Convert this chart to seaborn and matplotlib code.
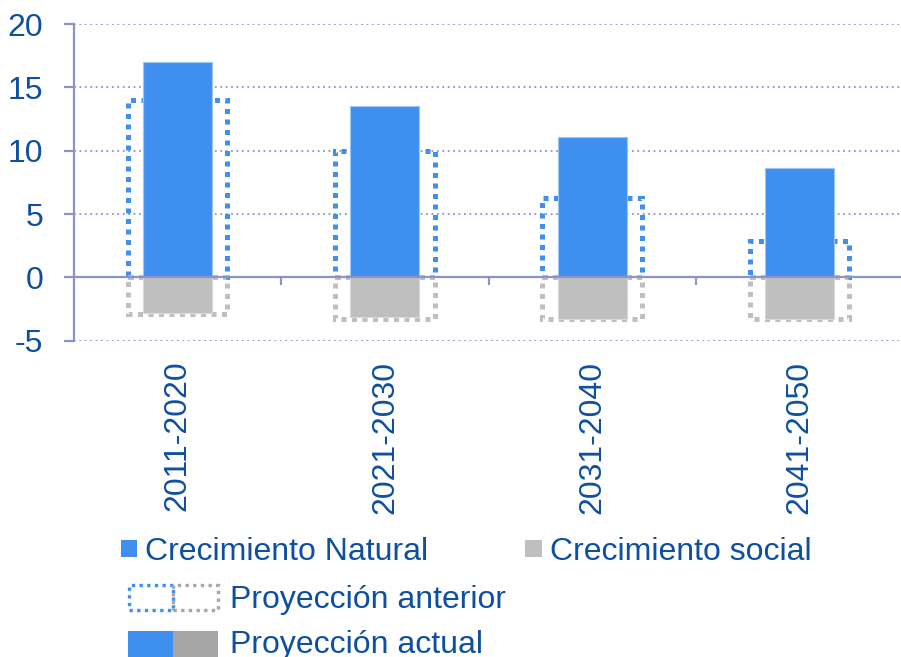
import matplotlib
matplotlib.use("Agg")
import matplotlib.pyplot as plt
import seaborn as sns
from matplotlib.patches import Rectangle

# ---- data ----
periods = ["2011-2020", "2021-2030", "2031-2040", "2041-2050"]
natural_actual = [17.0, 13.5, 11.1, 8.6]
social_actual = [-2.8, -3.1, -3.25, -3.25]
natural_prev = [14.0, 10.0, 6.3, 2.9]
social_prev = [-2.9, -3.25, -3.3, -3.3]
y_ticks = [-5, 0, 5, 10, 15, 20]
legend_labels = ["Crecimiento Natural", "Crecimiento social",
                 "Proyección anterior", "Proyección actual"]

# ---- style ----
BLUE = "#3F8FF1"
GRAY = "#BFBFBF"
GRAY_DARK = "#A6A6A6"
TEXT = "#0E4FA0"
AXIS = "#8A95C5"
FS = 23

sns.set_theme(style="white")
plt.rcParams["font.family"] = ["Liberation Sans", "DejaVu Sans"]
plt.rcParams["axes.unicode_minus"] = False

W, H = 901, 657
fig = plt.figure(figsize=(W / 100, H / 100), dpi=100)
ax = fig.add_axes([74 / W, 1 - 340.7 / H, (903.2 - 74) / W, (340.7 - 24) / H])


def restyle(start, **kw):
    for p in ax.patches[start:]:
        for k, v in kw.items():
            getattr(p, "set_" + k)(v)


DOT = (0, (1, 1.1))

# previous projection (dotted outlines)
n = len(ax.patches)
sns.barplot(x=periods, y=natural_prev, width=0.48, errorbar=None,
            color=BLUE, saturation=1, ax=ax)
restyle(n, facecolor="none", edgecolor=BLUE, linewidth=3.6, linestyle=DOT, zorder=2)
n = len(ax.patches)
sns.barplot(x=periods, y=social_prev, width=0.48, errorbar=None,
            color=GRAY, saturation=1, ax=ax)
restyle(n, facecolor="none", edgecolor=GRAY, linewidth=3.6, linestyle=DOT, zorder=2)

# current projection (solid bars)
n = len(ax.patches)
sns.barplot(x=periods, y=natural_actual, width=0.333, errorbar=None,
            color=BLUE, saturation=1, ax=ax)
restyle(n, facecolor=BLUE, edgecolor="#9CC6F6", linewidth=0.8, zorder=3)
n = len(ax.patches)
sns.barplot(x=periods, y=social_actual, width=0.333, errorbar=None,
            color=GRAY, saturation=1, ax=ax)
restyle(n, facecolor=GRAY, edgecolor="#DADADA", linewidth=0.8, zorder=3)

ax.set_xlim(-0.5, 3.5)
ax.set_ylim(-5, 20)
ax.set_xlabel("")
ax.set_ylabel("")

for s in ["top", "right"]:
    ax.spines[s].set_visible(False)
ax.spines["bottom"].set_position(("data", 0))
for s in ["bottom", "left"]:
    ax.spines[s].set_color(AXIS)
    ax.spines[s].set_linewidth(1.6)
    ax.spines[s].set_zorder(4)

ax.set_yticks(y_ticks)
ax.set_yticklabels([str(v) for v in y_ticks])
ax.tick_params(axis="y", left=True, length=7, width=1.6, color=AXIS,
               labelcolor=TEXT, labelsize=FS, pad=15, direction="out")
ax.set_xticks(range(len(periods)))
ax.set_xticklabels(periods, rotation=90)
ax.tick_params(axis="x", which="major", bottom=True, length=0, pad=60,
               labelcolor=TEXT, labelsize=FS)
ax.set_xticks([0.5, 1.5, 2.5], minor=True)
ax.tick_params(axis="x", which="minor", bottom=True, length=6, width=1.6,
               color=AXIS, direction="out")

ax.yaxis.grid(True, linestyle=(0, (1, 2)), linewidth=1.3, color=AXIS)
ax.set_axisbelow(True)


# ---- legend (manual layout) ----
def fx(x):
    return x / W


def fy(y):
    return 1 - y / H


def rect(x0, y0, x1, y1, **kw):
    r = Rectangle((fx(x0), fy(y1)), (x1 - x0) / W, (y1 - y0) / H,
                  transform=fig.transFigure, **kw)
    fig.add_artist(r)


rect(121, 540, 137, 557, facecolor=BLUE, edgecolor="none")
fig.text(fx(145), fy(560), legend_labels[0], fontsize=FS, color=TEXT,
         ha="left", va="baseline")
rect(525, 540, 542, 557, facecolor=GRAY, edgecolor="none")
fig.text(fx(550), fy(560), legend_labels[1], fontsize=FS, color=TEXT,
         ha="left", va="baseline")

rect(129, 585, 173, 610, facecolor="none", edgecolor=BLUE, linewidth=2.4,
     linestyle=(0, (1, 1.3)))
rect(173, 585, 218, 610, facecolor="none", edgecolor=GRAY_DARK, linewidth=2.4,
     linestyle=(0, (1, 1.3)))
fig.text(fx(230), fy(608), legend_labels[2], fontsize=FS, color=TEXT,
         ha="left", va="baseline")

rect(128, 631, 173, 660, facecolor=BLUE, edgecolor="none")
rect(173, 631, 218, 660, facecolor=GRAY_DARK, edgecolor="none")
fig.text(fx(230), fy(653), legend_labels[3], fontsize=FS, color=TEXT,
         ha="left", va="baseline")

fig.savefig("out.png", dpi=100)
